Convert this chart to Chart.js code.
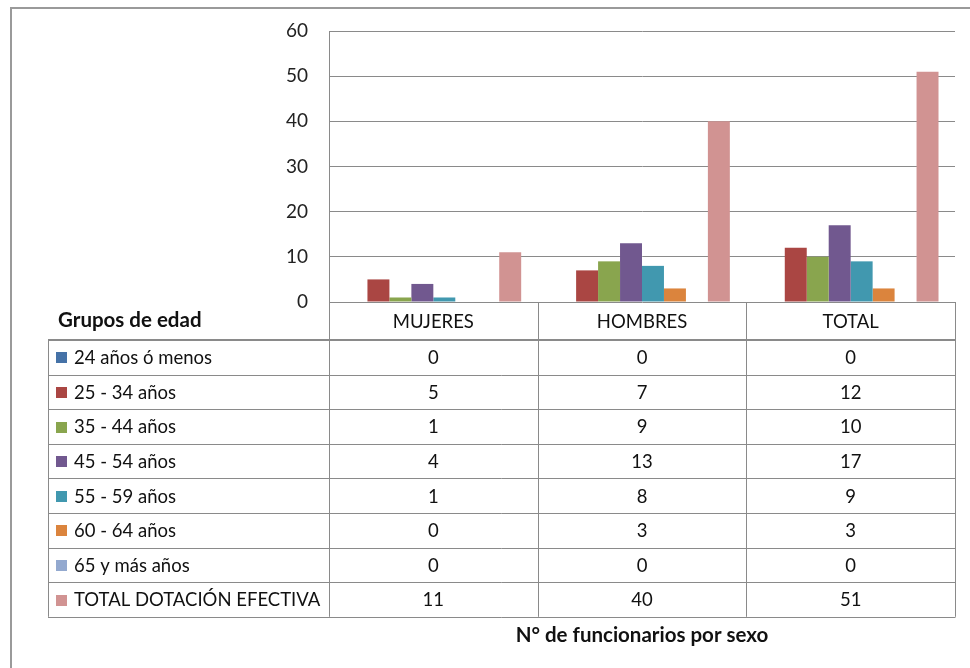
<!DOCTYPE html>
<html>
<head>
<meta charset="utf-8">
<script src="https://cdn.jsdelivr.net/npm/chart.js@4.4.0/dist/chart.umd.min.js"></script>
<style>
  body { margin: 0; background: #fff; }
</style>
</head>
<body>
<canvas id="chart-bar-1" width="970" height="668"></canvas>
<script>
'use strict';
// [ data ] start
var categories = ['MUJERES', 'HOMBRES', 'TOTAL'];
var seriesNames = ['24 años ó menos', '25 - 34 años', '35 - 44 años', '45 - 54 años',
    '55 - 59 años', '60 - 64 años', '65 y más años', 'TOTAL DOTACIÓN EFECTIVA'];
var age24 = [0, 0, 0];
var age25 = [5, 7, 12];
var age35 = [1, 9, 10];
var age45 = [4, 13, 17];
var age55 = [1, 8, 9];
var age60 = [0, 3, 3];
var age65 = [0, 0, 0];
var totalDotacion = [11, 40, 51];
var yTicks = [0, 10, 20, 30, 40, 50, 60];
// [ data ] end

var seriesValues = [age24, age25, age35, age45, age55, age60, age65, totalDotacion];
var seriesColors = ['#4572A7', '#AA4643', '#89A54E', '#71588F', '#4198AF', '#DB843D', '#93A9CF', '#D19392'];

var font = 'Lato, "Open Sans", sans-serif';
var lineColor = '#8a8a8a';

// [ data table plugin ] start
var tablePlugin = {
    id: 'dataTable',
    afterDraw: function(chart) {
        var ctx = chart.ctx;
        var area = chart.chartArea;
        var left = area.left, right = area.right, bottom = area.bottom;
        var colW = (right - left) / categories.length;
        var tableLeft = 48;
        var headerBottom = 340;
        var rowH = 34.6;
        var tableBottom = headerBottom + rowH * seriesNames.length;

        ctx.save();
        // outer chart border (top and left)
        ctx.strokeStyle = '#9a9a9a';
        ctx.lineWidth = 2;
        ctx.beginPath();
        ctx.moveTo(11, 668);
        ctx.lineTo(11, 8);
        ctx.lineTo(970, 8);
        ctx.stroke();

        ctx.strokeStyle = lineColor;
        ctx.lineWidth = 1;
        // column separators
        for (var c = 0; c <= categories.length; c++) {
            var x = Math.round(left + c * colW) + 0.5;
            ctx.beginPath();
            ctx.moveTo(x, bottom);
            ctx.lineTo(x, tableBottom);
            ctx.stroke();
        }
        // left border of row headers
        ctx.beginPath();
        ctx.moveTo(tableLeft + 0.5, headerBottom);
        ctx.lineTo(tableLeft + 0.5, tableBottom);
        ctx.stroke();
        // header bottom line (thicker)
        ctx.lineWidth = 2;
        ctx.beginPath();
        ctx.moveTo(tableLeft, headerBottom);
        ctx.lineTo(right + 0.5, headerBottom);
        ctx.stroke();
        // row lines
        ctx.lineWidth = 1;
        for (var r = 1; r <= seriesNames.length; r++) {
            var y = Math.round(headerBottom + r * rowH) + 0.5;
            ctx.beginPath();
            ctx.moveTo(tableLeft, y);
            ctx.lineTo(right + 0.5, y);
            ctx.stroke();
        }

        // header texts
        ctx.fillStyle = '#111';
        ctx.textBaseline = 'middle';
        ctx.textAlign = 'center';
        ctx.font = '18.5px ' + font;
        categories.forEach(function(cat, i) {
            ctx.fillText(cat, chart.scales.x.getPixelForValue(i), (bottom + headerBottom) / 2 + 1);
        });
        ctx.textAlign = 'left';
        ctx.font = 'bold 20.5px ' + font;
        ctx.fillText('Grupos de edad', 58, 320);

        // rows
        seriesNames.forEach(function(name, r) {
            var yMid = headerBottom + r * rowH + rowH / 2 + 1;
            ctx.fillStyle = seriesColors[r];
            ctx.fillRect(56, Math.round(yMid - 6), 11, 11);
            ctx.fillStyle = '#111';
            ctx.textAlign = 'left';
            ctx.font = '18.5px ' + font;
            ctx.fillText(name, 74, yMid);
            ctx.textAlign = 'center';
            seriesValues[r].forEach(function(v, i) {
                ctx.fillText(String(v), chart.scales.x.getPixelForValue(i), yMid);
            });
        });

        // axis title
        ctx.font = 'bold 20.5px ' + font;
        ctx.textAlign = 'center';
        ctx.fillText('N° de funcionarios por sexo', (left + right) / 2, 635);
        ctx.restore();
    }
};
// [ data table plugin ] end

// [ bar-chart ] start
var bar = document.getElementById('chart-bar-1').getContext('2d');
var datasets = seriesNames.map(function(name, i) {
    return {
        label: name,
        data: seriesValues[i],
        backgroundColor: seriesColors[i],
        borderWidth: 0
    };
});
var myBarChart = new Chart(bar, {
    type: 'bar',
    data: {
        labels: categories,
        datasets: datasets
    },
    options: {
        responsive: false,
        animation: false,
        layout: {
            padding: { left: 269, right: 15, top: 31, bottom: 366 }
        },
        plugins: {
            legend: { display: false },
            tooltip: { enabled: false }
        },
        datasets: {
            bar: { categoryPercentage: 0.842, barPercentage: 1 }
        },
        scales: {
            x: {
                display: false
            },
            y: {
                min: 0,
                max: 60,
                afterFit: function(scale) {
                    scale.width = 60;
                    scale.paddingTop = 0;
                    scale.paddingBottom = 0;
                },
                afterBuildTicks: function(scale) {
                    scale.ticks = yTicks.map(function(v) { return { value: v }; });
                },
                grid: { color: lineColor, drawTicks: false },
                border: { display: true, color: lineColor },
                ticks: {
                    padding: 21,
                    color: '#222',
                    font: { family: 'Lato, "Open Sans", sans-serif', size: 19 }
                }
            }
        }
    },
    plugins: [tablePlugin]
});
// [ bar-chart ] end
</script>
</body>
</html>
